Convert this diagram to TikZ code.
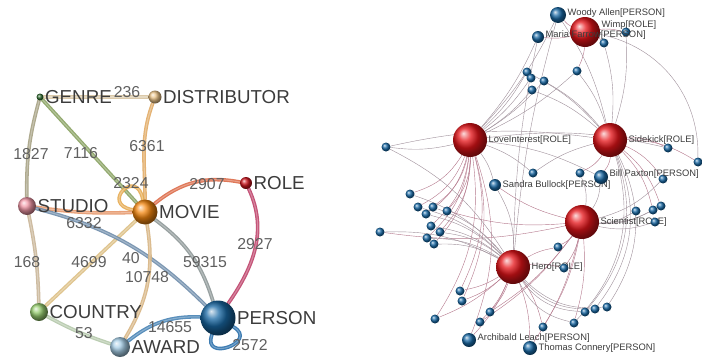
\documentclass[tikz,border=0pt]{standalone}
\usepackage{fontspec}
\setmainfont{Liberation Sans}
\pgfdeclarelayer{bg}
\pgfsetlayers{bg,main}

\definecolor{genrec}{RGB}{45,105,45}
\definecolor{distc}{RGB}{235,195,135}
\definecolor{rolec}{RGB}{205,20,30}
\definecolor{studc}{RGB}{240,150,165}
\definecolor{movc}{RGB}{245,135,15}
\definecolor{countc}{RGB}{150,205,110}
\definecolor{awc}{RGB}{165,205,230}
\definecolor{persc}{RGB}{25,105,165}
\definecolor{redc}{RGB}{230,20,25}
\definecolor{labc}{RGB}{60,60,60}
\definecolor{numc}{RGB}{95,95,95}
\definecolor{tiec}{RGB}{160,145,155}
\definecolor{rtiec}{RGB}{180,120,140}

\begin{document}
\begin{tikzpicture}[x=0.03cm,y=-0.03cm,
  ball/.style={circle,inner sep=0pt,minimum size=#1*0.3mm,shading=ball},
  pers/.style={ball=#1,ball color=persc},
  rolebal/.style={ball=#1,ball color=redc},
  tag/.style={font=\fontsize{16}{16}\selectfont,text=labc,inner sep=1pt},
  ptag/.style={font=\fontsize{8}{8}\selectfont,text=labc,inner sep=1pt},
  num/.style={font=\fontsize{13.5}{13.5}\selectfont,text=numc,inner sep=0pt},
  tube/.style={line width=3.1pt,line cap=round,opacity=.9,
    postaction={draw=white,draw opacity=.3,line width=.9pt}},
  tie/.style={draw=tiec,line width=.35pt},
  rtie/.style={draw=rtiec,line width=.35pt}]
\tikzstyle{every node}=[font=\small]
\useasboundingbox (0,0) rectangle (703,360);

	\node[ball=7,ball color=genrec,label={[tag]right:GENRE}] (genre) at (40,97) {};
	\node[ball=13,ball color=distc,label={[tag]right:DISTRIBUTOR}] (dist) at (155,97) {};
	\node[ball=12,ball color=rolec,label={[tag]right:ROLE}] (role) at (246,183) {};
	\node[ball=18,ball color=studc,label={[tag]right:STUDIO}] (studio) at (27,206) {};
	\node[ball=25,ball color=movc,label={[tag]right:MOVIE}] (movie) at (145,212) {};
	\node[ball=18,ball color=countc,label={[tag]right:COUNTRY}] (country) at (39,312) {};
	\node[ball=20,ball color=awc,label={[tag]right:AWARD}] (award) at (120,347) {};
	\node[ball=35,ball color=persc,label={[tag]right:PERSON}] (person) at (218,318) {};

	\node[num] (n236) at (127,92) {236};
	\node[num] (n1827) at (31,154) {1827};
	\node[num] (n7116) at (81,153) {7116};
	\node[num] (n6361) at (147,146) {6361};
	\node[num] (n2324) at (131,183) {2324};
	\node[num] (n2907) at (207,184) {2907};
	\node[num] (n6332) at (84,223) {6332};
	\node[num] (n168) at (27,262) {168};
	\node[num] (n4699) at (89,262) {4699};
	\node[num] (n40) at (131,258) {40};
	\node[num] (n10748) at (147,277) {10748};
	\node[num] (n59315) at (205,262) {59315};
	\node[num] (n2927) at (255,244) {2927};
	\node[num] (n53) at (84,333) {53};
	\node[num] (n14655) at (170,327) {14655};
	\node[num] (n2572) at (250,345) {2572};

	\begin{pgfonlayer}{bg}
	\draw[tube,draw={rgb,255:red,215;green,195;blue,160}] (genre) to (dist);
	\draw[tube,draw={rgb,255:red,165;green,160;blue,130}] (genre) to[bend right=8] (studio);
	\draw[tube,draw={rgb,255:red,135;green,160;blue,95}] (genre) to (movie);
	\draw[tube,draw={rgb,255:red,225;green,170;blue,100}] (dist) to[out=-110,in=90] (movie);
	\draw[tube,draw={rgb,255:red,230;green,170;blue,80}] (movie) to[out=170,in=100,min distance=10mm] (movie);
	\draw[tube,draw={rgb,255:red,220;green,105;blue,70}] (movie) to[bend left=25] (role);
	\draw[tube,draw={rgb,255:red,190;green,65;blue,105}] (role) to[out=-65,in=55] (person);
	\draw[tube,draw={rgb,255:red,230;green,150;blue,105}] (studio) to[bend right=5] (movie);
	\draw[tube,draw={rgb,255:red,200;green,180;blue,150}] (studio) to[bend left=5] (country);
	\draw[tube,draw={rgb,255:red,220;green,190;blue,130}] (movie) to (country);
	\draw[tube,draw={rgb,255:red,110;green,140;blue,170}] (studio) to[bend left=15] (person);
	\draw[tube,draw={rgb,255:red,215;green,180;blue,130}] (movie) to[bend left=20] (award);
	\draw[tube,draw={rgb,255:red,140;green,150;blue,150}] (movie) to[bend left=18] (person);
	\draw[tube,draw={rgb,255:red,180;green,200;blue,170}] (country) to[bend right=5] (award);
	\draw[tube,draw={rgb,255:red,70;green,130;blue,180}] (award) to[bend left=20] (person);
	\draw[tube,draw={rgb,255:red,40;green,110;blue,170}] (person) to[out=-110,in=-30,min distance=9mm] (person);
	\end{pgfonlayer}

	\node[rolebal=30,label={[ptag,yshift=2mm]right:Wimp[ROLE]}] (wimp) at (585,32) {};
	\node[rolebal=34,label={[ptag]right:LoveInterest[ROLE]}] (love) at (470,140) {};
	\node[rolebal=34,label={[ptag]right:Sidekick[ROLE]}] (side) at (610,140) {};
	\node[rolebal=34,label={[ptag]right:Scientist[ROLE]}] (sci) at (582,222) {};
	\node[rolebal=34,label={[ptag]right:Hero[ROLE]}] (hero) at (513,267) {};

	\foreach \n/\x/\y in {t1/626/32,t2/604/43,t3/527/72,t4/531/78,t5/544/81,t6/532/90,t7/577/71,
	  l1/386/147,l2/410/194,l3/418/207,l4/426/214,l5/433/207,l6/447/211,l7/380/232,l8/431/226,
	  l9/440/232,l10/427/238,l11/434/244,m1/533/173,m2/580/173,m3/558/247,m4/564/268,
	  r1/668/148,r2/698/162,r3/663/179,r4/636/211,r5/653/210,r6/661/206,r7/655/222,
	  b1/460/291,b2/462/301,b3/490/312,b4/435/319,b5/480/322,b6/607/307,b7/595/309,
	  b8/585/312,b9/574/323,b10/543/327}
	  \node[pers=9] (\n) at (\x,\y) {};
	\node[pers=16,label={[ptag,yshift=.6mm]right:Woody Allen[PERSON]}] (woody) at (558,15) {};
	\node[pers=12,label={[ptag,yshift=.6mm]right:Maria Farrow[PERSON]}] (maria) at (538,37) {};
	\node[pers=12,label={[ptag]right:Sandra Bullock[PERSON]}] (sandra) at (495,185) {};
	\node[pers=14,label={[ptag,yshift=1mm]right:Bill Paxton[PERSON]}] (bill) at (601,177) {};
	\node[pers=14,label={[ptag,yshift=.6mm]right:Archibald Leach[PERSON]}] (archi) at (469,340) {};
	\node[pers=14,label={[ptag]right:Thomas Connery[PERSON]}] (thomas) at (530,348) {};

	\begin{pgfonlayer}{bg}
	\foreach \n in {l2,l3,l4,l5,l6,l8,l9,l10,l11,b1,b2,b4,archi}
	  \draw[rtie] (love) to[bend left=20] (\n);
	\foreach \n in {maria,woody,t3,t4,t5,t6,t7}
	  \draw[tie] (love) to[bend right=8] (\n);
	\foreach \n in {l1,sandra,m1,r1,bill}
	  \draw[tie] (love) to[bend left=10] (\n);
	\foreach \n in {t1,t2,t3,t5,t6,t7,m1,l1,woody}
	  \draw[tie] (side) to[bend right=10] (\n);
	\foreach \n in {r1,r2,r3,bill,m2,r5,r6}
	  \draw[rtie] (side) to[bend left=15] (\n);
	\foreach \n in {b6,b7,b8,b9}
	  \draw[tie] (side) to[bend left=30] (\n);
	\foreach \n in {r4,r5,r6,r7,bill,m2,r3}
	  \draw[tie] (sci) to[bend right=15] (\n);
	\foreach \n in {m3,m4,b9,b10,b3,b5,thomas,l7,sandra,l6}
	  \draw[rtie] (sci) to[bend left=10] (\n);
	\foreach \n in {l2,l3,l4,l5,l8,l9,l10,l11,l7,l1,sandra}
	  \draw[tie] (hero) to[bend right=15] (\n);
	\foreach \n in {b1,b2,b4,archi,thomas,b3,b5,b10,m4,m3}
	  \draw[rtie] (hero) to[bend left=10] (\n);
	\foreach \n in {b6,b7,b8,b9}
	  \draw[tie] (hero) to[bend right=25] (\n);
	\foreach \n in {woody,maria}
	  \draw[tie] (hero) to[bend left=5] (\n);
	\foreach \n in {woody,maria,t1,t2,t7}
	  \draw[rtie] (wimp) to[bend left=10] (\n);
	\draw[tie] (wimp) to[bend left=40] (r2);
	\end{pgfonlayer}
\end{tikzpicture}
\end{document}
